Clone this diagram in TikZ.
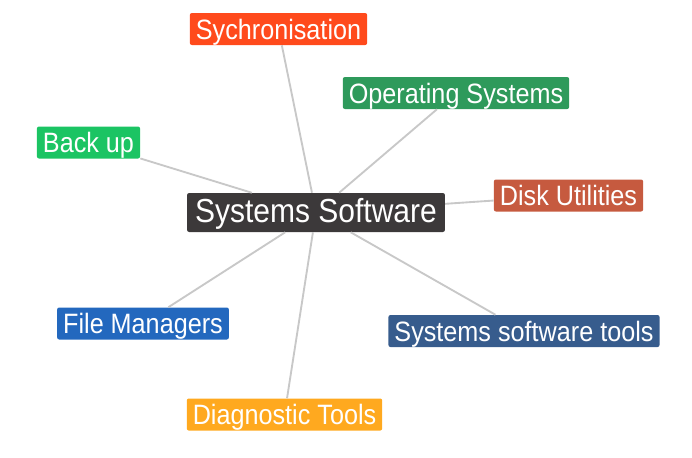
\documentclass[tikz,border=0pt]{standalone}
\usepackage{fontspec}
\setmainfont{Liberation Sans}
\newfontfamily\narrowsans[FakeStretch=0.9]{Liberation Sans}
\definecolor{syncred}{HTML}{FF4A1C}
\definecolor{osgreen}{HTML}{2E9A5B}
\definecolor{backgreen}{HTML}{1BC463}
\definecolor{hubgrey}{HTML}{3C393A}
\definecolor{diskred}{HTML}{C65A3F}
\definecolor{fileblue}{HTML}{2368BE}
\definecolor{toolblue}{HTML}{375C8D}
\definecolor{diagorange}{HTML}{FFA91F}
\definecolor{linkgrey}{HTML}{C8C8C8}
\tikzset{
	leaf/.style={rounded corners=1.5pt, text=white, inner xsep=4.5pt, inner ysep=2pt,
		font=\narrowsans\fontsize{21}{21}\selectfont, text height=17.5pt, text depth=2.5pt},
	hub/.style={leaf, inner xsep=6pt, inner ysep=2pt,
		font=\narrowsans\fontsize{25}{25}\selectfont, text height=20.2pt, text depth=5.05pt},
	link/.style={draw=linkgrey, line width=1.4pt}
}

\begin{document}
\begin{tikzpicture}[x=0.75pt,y=-0.75pt]
	\useasboundingbox (0,0) rectangle (692,457);
	
	\node (H) [hub, fill=hubgrey] at (316,212.5) {Systems Software};
	
	\node (Sy) [leaf, fill=syncred] at (278.5,29) {Sychronisation};
	\node (OS) [leaf, fill=osgreen] at (456,93) {Operating Systems};
	\node (BU) [leaf, fill=backgreen] at (88.5,142.5) {Back up};
	\node (DU) [leaf, fill=diskred] at (568.5,195.5) {Disk Utilities};
	\node (FM) [leaf, fill=fileblue] at (143,323.5) {File Managers};
	\node (ST) [leaf, fill=toolblue] at (524,331) {Systems software tools};
	\node (DT) [leaf, fill=diagorange] at (284.5,414.5) {Diagnostic Tools};
	
	\draw [link] (H) -- (Sy);
	\draw [link] (H) -- (OS);
	\draw [link] (H) -- (BU);
	\draw [link] (H) -- (DU);
	\draw [link] (H) -- (FM);
	\draw [link] (H) -- (ST);
	\draw [link] (H) -- (DT);
\end{tikzpicture}
\end{document}
